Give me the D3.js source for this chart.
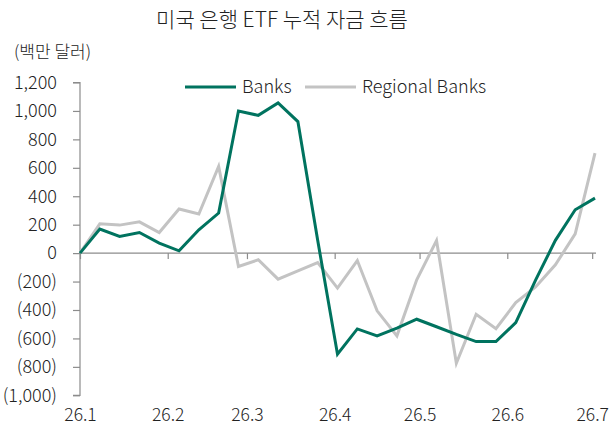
<!DOCTYPE html>
<html>
<head>
<meta charset="utf-8">
<script src="https://cdn.jsdelivr.net/npm/d3@7"></script>
<style>
  html, body { margin: 0; padding: 0; background: #fff; }
  svg { display: block; }
  text { font-family: "Noto Sans CJK KR", "Noto Sans", sans-serif; fill: #222; font-weight: 300; }
</style>
</head>
<body>
<svg id="chart" width="611" height="426"></svg>
<script>
// ---- data ----
const dates = [
  "2026-01-01","2026-01-08","2026-01-15","2026-01-22","2026-01-29",
  "2026-02-05","2026-02-12","2026-02-19","2026-02-26",
  "2026-03-05","2026-03-12","2026-03-19","2026-03-26",
  "2026-04-02","2026-04-09","2026-04-16","2026-04-23","2026-04-30",
  "2026-05-07","2026-05-14","2026-05-21","2026-05-28",
  "2026-06-04","2026-06-11","2026-06-18","2026-06-25",
  "2026-07-02"
];
const banks = [0, 169, 117, 145, 70, 16, 164, 282, 1000, 969, 1056, 925, 90,
  -711, -533, -582, -528, -465, -518, -572, -622, -622, -489, -190, 90, 305, 387];
const regionalBanks = [0, 206, 197, 220, 145, 310, 275, 610, -94, -47, -183, -125, -66,
  -246, -52, -406, -582, -188, 89, -775, -430, -531, -348, -238, -82, 135, 704];
const seriesNames = ["Banks", "Regional Banks"];
const seriesColors = ["#00735f", "#c3c3c3"];
const yTicks = [-1000, -800, -600, -400, -200, 0, 200, 400, 600, 800, 1000, 1200];
const xTickDates = ["2026-01-01","2026-02-01","2026-03-01","2026-04-01","2026-05-01","2026-06-01","2026-07-01"];
const xTickLabels = ["26.1","26.2","26.3","26.4","26.5","26.6","26.7"];
const title = "미국 은행 ETF 누적 자금 흐름";
const unitLabel = "(백만 달러)";

// ---- chart ----
const parse = d3.utcParse("%Y-%m-%d");
const dts = dates.map(parse);
const svg = d3.select("#chart");

const x = d3.scaleUtc().domain([dts[0], dts[dts.length - 1]]).range([80, 595]);
const y = d3.scaleLinear().domain([-1000, 1200]).range([395.3, 82.5]);

// title
svg.append("text").attr("x", 282).attr("y", 27).attr("text-anchor", "middle")
  .style("font-size", "21px").text(title);
svg.append("text").attr("x", 14).attr("y", 58)
  .style("font-size", "17px").text(unitLabel);

// y axis
const yAxis = d3.axisLeft(y).tickValues(yTicks).tickSize(7).tickPadding(16)
  .tickFormat(v => v < 0 ? "(" + d3.format(",")(-v) + ")" : d3.format(",")(v));
const gy = svg.append("g").attr("transform", "translate(80,0)").call(yAxis);
gy.select(".domain").attr("stroke", "#8c8c8c").attr("stroke-width", 1.2).attr("d", "M-7," + y(1200) + "H0V" + y(-1000) + "H-7");
gy.selectAll(".tick line").attr("stroke", "#8c8c8c").attr("stroke-width", 1.2);
gy.selectAll(".tick text").style("font-size", "18px").attr("fill", "#222")
  .style("font-family", "'Noto Sans CJK KR', sans-serif").style("font-weight", 300).attr("x", -23);

// x axis at zero
const xAxis = d3.axisBottom(x).tickValues(xTickDates.map(parse)).tickSize(6)
  .tickFormat((d, i) => xTickLabels[i]);
const gx = svg.append("g").attr("transform", "translate(0," + y(0) + ")").call(xAxis);
gx.select(".domain").attr("stroke", "#8c8c8c").attr("stroke-width", 1.2).attr("d", "M80,0H596");
gx.selectAll(".tick line").attr("stroke", "#8c8c8c").attr("stroke-width", 1.2);
gx.selectAll(".tick text").style("font-size", "17.5px").attr("fill", "#222")
  .style("font-family", "'Noto Sans CJK KR', sans-serif").style("font-weight", 300)
  .attr("y", 421 - y(0)).attr("dy", 0);

// lines
const line = d3.line().x((d, i) => x(dts[i])).y(d => y(d));
[regionalBanks, banks].forEach((s, k) => {
  const idx = k === 0 ? 1 : 0;
  svg.append("path").datum(s).attr("d", line).attr("fill", "none")
    .attr("stroke", seriesColors[idx]).attr("stroke-width", 3).attr("stroke-linejoin", "miter");
});

// legend
const legend = [
  { x1: 185, x2: 236, tx: 242 },
  { x1: 305, x2: 356, tx: 362 }
];
legend.forEach((l, i) => {
  svg.append("line").attr("x1", l.x1).attr("x2", l.x2).attr("y1", 87).attr("y2", 87)
    .attr("stroke", seriesColors[i]).attr("stroke-width", 3);
  svg.append("text").attr("x", l.tx).attr("y", 87).attr("dy", "0.35em")
    .style("font-size", "18px").text(seriesNames[i]);
});
</script>
</body>
</html>
